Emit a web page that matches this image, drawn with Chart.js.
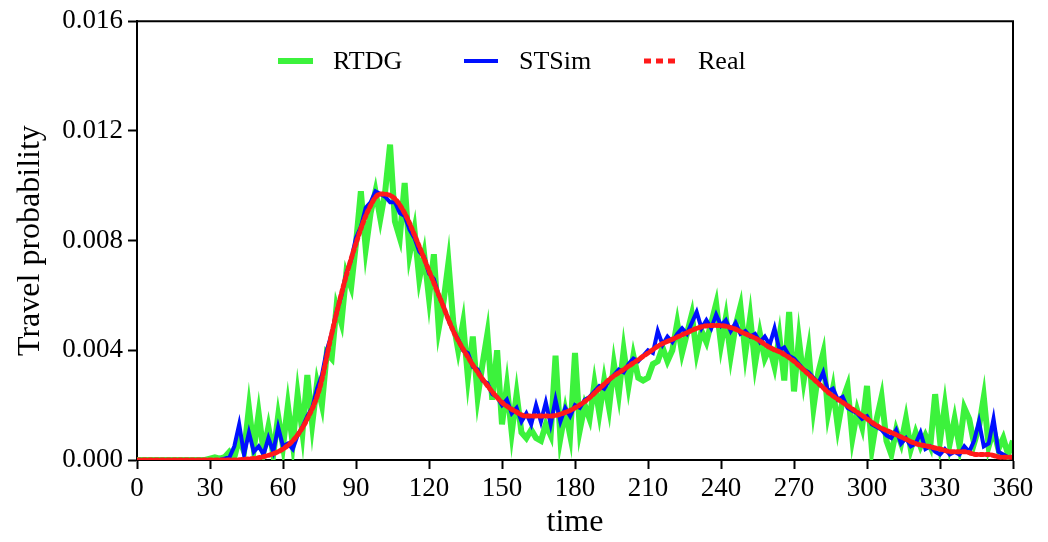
<!DOCTYPE html>
<html><head><meta charset="utf-8">
<script src="https://cdn.jsdelivr.net/npm/chart.js@4.4.1/dist/chart.umd.min.js"></script>
<style>html,body{margin:0;padding:0;background:#fff;}</style>
</head><body>
<canvas id="c" width="1048" height="542"></canvas>
<script>
// time categories
const timesFine = Array.from({length: 181}, (_, i) => i * 2);   // 0..360 step 2
const timesReal = Array.from({length: 73}, (_, i) => i * 5);    // 0..360 step 5
const xTicks = [0, 30, 60, 90, 120, 150, 180, 210, 240, 270, 300, 330, 360];
const yTicks = [0.000, 0.004, 0.008, 0.012, 0.016];

const rtdg = [
 0,0,0,0,0,0,0,0,0,0,0,0,0,0,0,
 0.00005,0.0001,0.00005,0.0001,0.0003,0.0001,0.0008,0.0003,0.0019,0.0004,
 0.0017,0.0003,0.0012,0.0002,0.0016,0.0005,0.0020,0.0006,0.0024,0.0010,
 0.0031,0.0013,0.0028,0.0020,0.0039,0.0037,0.0056,0.0050,0.0068,0.0063,
 0.0079,0.0098,0.0077,0.0090,0.0098,0.0088,0.0098,0.0115,0.0087,0.0081,
 0.0101,0.0075,0.0084,0.0066,0.0075,0.0059,0.0075,0.0048,0.0058,0.0072,
 0.0050,0.0040,0.0050,0.0030,0.0045,0.0023,0.0035,0.0046,0.0022,0.0040,
 0.0013,0.0027,0.0010,0.0024,0.0010,0.0008,0.0011,0.0008,0.0007,0.0013,
 0.0009,0.0038,0.0008,0.0018,0.0009,0.0039,0.0011,0.0020,0.0015,0.0028,
 0.0017,0.0029,0.0019,0.0035,0.0024,0.0040,0.0027,0.0038,0.0030,0.0029,
 0.0030,0.0035,0.0036,0.0041,0.0036,0.0040,0.0050,0.0039,0.0046,0.0053,
 0.0039,0.0047,0.0043,0.0050,0.0057,0.0042,0.0052,0.0038,0.0049,0.0056,
 0.0039,0.0052,0.0035,0.0046,0.0037,0.0041,0.0034,0.0045,0.0029,0.0054,
 0.0025,0.0044,0.0029,0.0040,0.0019,0.0032,0.0039,0.0017,0.0026,0.0012,
 0.0022,0.0027,0.0008,0.0018,0.0012,0.0027,0.0004,0.0015,0.0023,0.0007,
 0.0002,0.0011,0.0006,0.0015,0.0004,0.0010,0.0005,0.0009,0.0005,0.0024,
 0.0007,0.0020,0.0006,0.0015,0.0005,0.0019,0.0015,0.0006,0.0012,0.0023,
 0.0005,0.0011,0.0004,0.0008,0.0002,0.0007
];

const stsim = [
 0,0,0,0,0,0,0,0,0,0,0,0,0,0,0,0,0,0,
 0.00005,0.0001,0.0005,0.0013,0.0002,0.0010,0.0003,0.0005,0.0002,0.0008,
 0.0003,0.0012,0.0005,0.0006,0.0004,0.0009,0.0012,0.0016,0.0019,0.0026,
 0.0031,0.0040,0.0046,0.0054,0.0060,0.0068,0.0073,0.0081,0.0085,0.0092,
 0.0094,0.0098,0.0097,0.0096,0.0094,0.0094,0.0090,0.0089,0.0084,0.0081,
 0.0076,0.0074,0.0068,0.0066,0.0060,0.0056,0.0051,0.0047,0.0044,0.0040,
 0.0039,0.0034,0.0033,0.0029,0.0028,0.0024,0.0023,0.0020,0.0022,0.0017,
 0.0019,0.0014,0.0017,0.0013,0.0020,0.0014,0.0021,0.0013,0.0022,0.0014,
 0.0019,0.0016,0.0020,0.0019,0.0022,0.0023,0.0025,0.0027,0.0026,0.0029,
 0.0031,0.0033,0.0032,0.0035,0.0037,0.0036,0.0038,0.0040,0.0039,0.0047,
 0.0042,0.0045,0.0043,0.0046,0.0048,0.0046,0.0050,0.0054,0.0048,0.0051,
 0.0048,0.0053,0.0049,0.0051,0.0047,0.0050,0.0046,0.0047,0.0045,0.0046,
 0.0043,0.0045,0.0042,0.0048,0.0040,0.0041,0.0038,0.0037,0.0035,0.0033,
 0.0032,0.0030,0.0028,0.0032,0.0025,0.0026,0.0022,0.0023,0.0019,0.0018,
 0.0017,0.0015,0.0016,0.0013,0.0012,0.0011,0.0009,0.0008,0.0011,0.0006,
 0.0008,0.0005,0.0006,0.0010,0.0004,0.0005,0.0003,0.0002,0.0004,0.0002,
 0.0003,0.0002,0.0005,0.0003,0.0007,0.0014,0.0005,0.0006,0.0015,0.0003,
 0.0002,0.0001,0.0001
];

const real = [
 0,0,0,0,0,0,0,0,0,
 0.00003,0.00008,0.0002,0.0004,0.0008,0.0015,0.0026,0.0046,0.0064,0.0079,
 0.0091,0.0097,0.0096,0.0090,0.0080,0.0069,0.0058,0.0047,0.0039,0.0032,
 0.0026,0.0021,0.0018,0.0016,0.0016,0.0016,0.0017,0.0019,0.0022,0.0026,
 0.0030,0.0033,0.0036,0.0039,0.0042,0.0044,0.0046,0.0048,0.0049,0.0049,
 0.0048,0.0046,0.0044,0.0041,0.0039,0.0036,0.0032,0.0028,0.0024,0.0021,
 0.0018,0.0015,0.0012,0.0010,0.0008,0.0006,0.0005,0.0004,0.0003,0.0003,
 0.0002,0.0002,0.0001,0.0001
];

const seriesNames = ['RTDG', 'STSim', 'Real'];

const FONT = "'Liberation Serif', 'Times New Roman', serif";
const toXY = (xs, ys) => xs.map((x, i) => ({x: x, y: ys[i]}));

const legendPos = [
  {x0: 278, x1: 313, tx: 333},
  {x0: 464, x1: 498, tx: 519},
  {x0: 644, x1: 677, tx: 698}
];

const insideLegend = {
  id: 'insideLegend',
  afterDraw(chart) {
    const c = chart.ctx;
    const y = 61;
    const byName = {};
    chart.data.datasets.forEach(d => byName[d.label] = d);
    seriesNames.forEach((name, i) => {
      const d = byName[name];
      const p = legendPos[i];
      c.save();
      c.strokeStyle = d.borderColor;
      c.lineWidth = d.borderWidth;
      c.lineCap = 'butt';
      c.setLineDash(name === 'Real' ? [7, 5] : []);
      c.beginPath();
      c.moveTo(p.x0, y);
      c.lineTo(p.x1, y);
      c.stroke();
      c.setLineDash([]);
      c.fillStyle = '#000';
      c.font = '26px ' + FONT;
      c.textBaseline = 'middle';
      c.textAlign = 'left';
      c.fillText(name, p.tx, y + 1);
      c.restore();
    });
  }
};

const frame = {
  id: 'frame',
  afterDraw(chart) {
    const a = chart.chartArea, c = chart.ctx;
    c.save();
    c.strokeStyle = '#000';
    c.lineWidth = 2;
    c.beginPath();
    c.moveTo(a.left, a.top);
    c.lineTo(a.right, a.top);
    c.lineTo(a.right, a.bottom);
    c.stroke();
    c.restore();
  }
};

new Chart(document.getElementById('c'), {
  type: 'line',
  data: {
    datasets: [
      {label: 'Real', data: toXY(timesReal, real), borderColor: '#ff1a1a', borderWidth: 5,
       borderDash: [3, 3], borderCapStyle: 'round', pointRadius: 0, cubicInterpolationMode: 'monotone', order: 0},
      {label: 'STSim', data: toXY(timesFine, stsim), borderColor: '#0010ff', borderWidth: 4,
       pointRadius: 0, tension: 0, order: 1},
      {label: 'RTDG', data: toXY(timesFine, rtdg), borderColor: '#3cf23c', borderWidth: 6,
       pointRadius: 0, tension: 0, order: 2}
    ]
  },
  options: {
    responsive: false,
    animation: false,
    layout: {padding: {left: 0, right: 35, top: 21, bottom: 0}},
    plugins: {legend: {display: false}, tooltip: {enabled: false}},
    scales: {
      x: {
        type: 'linear', min: 0, max: 360,
        afterFit: s => { s.height = 82; },
        afterBuildTicks: s => { s.ticks = xTicks.map(v => ({value: v})); },
        grid: {drawOnChartArea: false, drawTicks: true, tickLength: 9, tickColor: '#000', tickWidth: 2},
        border: {display: true, color: '#000', width: 2},
        ticks: {color: '#000', font: {family: FONT, size: 27}, padding: 4, maxRotation: 0},
        title: {display: true, text: 'time', color: '#000', font: {family: FONT, size: 32}, padding: {top: 0, bottom: 0}}
      },
      y: {
        type: 'linear', min: 0, max: 0.016,
        afterFit: s => { s.width = 137; },
        afterBuildTicks: s => { s.ticks = yTicks.map(v => ({value: v})); },
        grid: {drawOnChartArea: false, drawTicks: true, tickLength: 9, tickColor: '#000', tickWidth: 2},
        border: {display: true, color: '#000', width: 2},
        ticks: {color: '#000', font: {family: FONT, size: 27}, padding: 5, callback: v => Number(v).toFixed(3)},
        title: {display: true, text: 'Travel probability', color: '#000', font: {family: FONT, size: 32}, padding: {top: 11, bottom: 0}}
      }
    }
  },
  plugins: [insideLegend, frame]
});
</script>
</body></html>
